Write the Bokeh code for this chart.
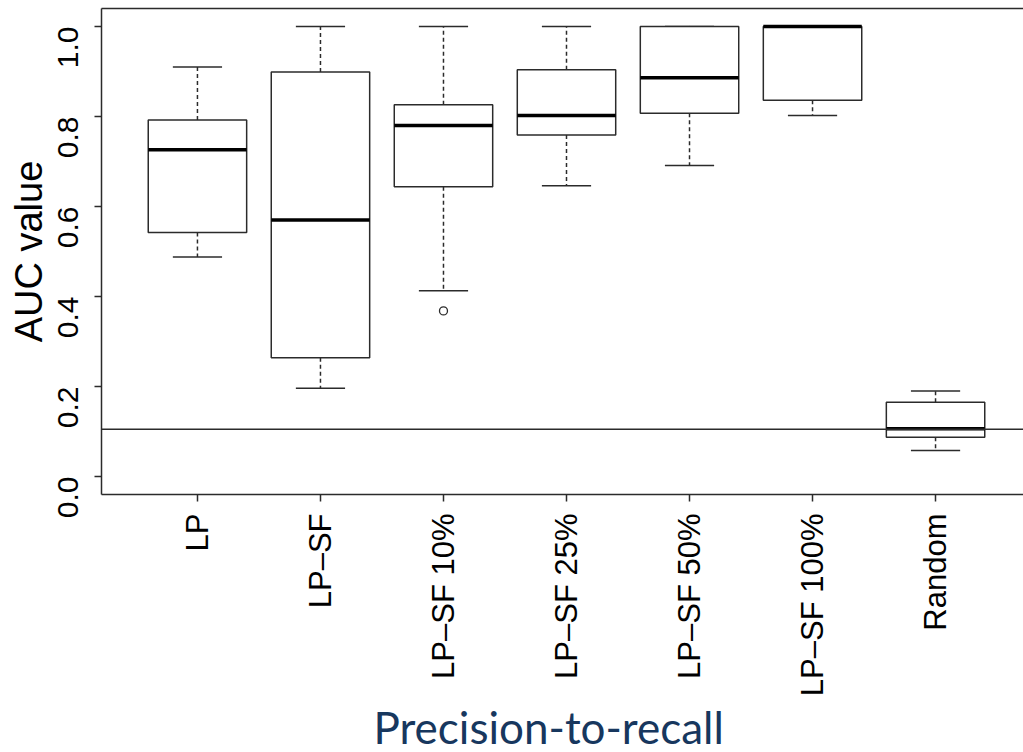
import math
from bokeh.plotting import figure
from bokeh.models import Range1d, FixedTicker, LinearAxis, Span, Title, NumeralTickFormatter
from bokeh.embed import file_html
from bokeh.resources import INLINE

# ---- data ----
categories = ["LP", "LP–SF", "LP–SF 10%", "LP–SF 25%", "LP–SF 50%", "LP–SF 100%", "Random"]
lower_whisker = [0.488, 0.196, 0.413, 0.646, 0.691, 0.802, 0.058]
q1 = [0.542, 0.264, 0.644, 0.759, 0.807, 0.836, 0.087]
median = [0.726, 0.570, 0.780, 0.802, 0.886, 1.000, 0.106]
q3 = [0.792, 0.899, 0.826, 0.904, 1.000, 1.000, 0.165]
upper_whisker = [0.910, 1.000, 1.000, 1.000, 1.000, 1.000, 0.190]
outlier_category = ["LP–SF 10%"]
outlier_value = [0.368]
random_baseline = 0.105
y_ticks = [0.0, 0.2, 0.4, 0.6, 0.8, 1.0]

x = [i + 1 for i in range(len(categories))]
BOX_HALF = 0.4
CAP_HALF = 0.2
LINE = "#2b2b2b"

p = figure(width=1023, height=752,
           x_range=Range1d(0.22, 7.715), y_range=Range1d(-0.04, 1.04),
           output_backend="svg", toolbar_location=None,
           min_border_left=101, min_border_right=0, min_border_top=8, min_border_bottom=258)
p.grid.visible = False
p.outline_line_color = None
p.background_fill_color = "white"
p.border_fill_color = "white"

# reference line (random baseline)
p.add_layout(Span(location=random_baseline, dimension="width", line_color=LINE, line_width=1.3))

# whiskers
p.segment(x0=x, x1=x, y0=q3, y1=upper_whisker, line_color=LINE, line_width=1.5, line_dash="4 3")
p.segment(x0=x, x1=x, y0=q1, y1=lower_whisker, line_color=LINE, line_width=1.5, line_dash="4 3")
# caps
p.segment(x0=[v - CAP_HALF for v in x], x1=[v + CAP_HALF for v in x], y0=upper_whisker, y1=upper_whisker,
          line_color=LINE, line_width=1.5)
p.segment(x0=[v - CAP_HALF for v in x], x1=[v + CAP_HALF for v in x], y0=lower_whisker, y1=lower_whisker,
          line_color=LINE, line_width=1.5)
# boxes
p.vbar(x=x, width=2 * BOX_HALF, bottom=q1, top=q3, fill_color="white", line_color=LINE, line_width=1.5)
# medians
p.segment(x0=[v - BOX_HALF for v in x], x1=[v + BOX_HALF for v in x], y0=median, y1=median,
          line_color="black", line_width=3.5)
# outliers
ox = [x[categories.index(c)] for c in outlier_category]
p.scatter(x=ox, y=outlier_value, marker="circle", size=8, fill_color=None, line_color=LINE, line_width=1.3)

# axes
xa = p.xaxis[0]
xa.ticker = FixedTicker(ticks=x)
xa.major_label_overrides = {v: c for v, c in zip(x, categories)}
xa.major_label_orientation = math.pi / 2
xa.major_label_text_font = "Liberation Sans"
xa.major_label_text_font_size = "31px"
xa.major_label_text_color = "black"
xa.major_label_standoff = 12
xa.major_tick_out = 7
xa.major_tick_in = 0
xa.minor_tick_line_color = None
xa.axis_line_width = 1.5
xa.axis_line_color = LINE
xa.major_tick_line_color = LINE
xa.major_tick_line_width = 1.5

ya = p.yaxis[0]
ya.ticker = FixedTicker(ticks=y_ticks)
ya.formatter = NumeralTickFormatter(format="0.0")
ya.major_label_orientation = math.pi / 2
ya.major_label_text_font = "Liberation Sans"
ya.major_label_text_font_size = "30px"
ya.major_label_text_color = "black"
ya.major_label_standoff = 27
ya.major_tick_out = 7
ya.major_tick_in = 0
ya.minor_tick_line_color = None
ya.axis_line_width = 1.5
ya.axis_line_color = LINE
ya.major_tick_line_color = LINE
ya.major_tick_line_width = 1.5
ya.axis_label = "AUC value"
ya.axis_label_text_font = "Liberation Sans"
ya.axis_label_text_font_size = "38px"
ya.axis_label_text_font_style = "normal"
ya.axis_label_text_color = "black"
ya.axis_label_standoff = -5

top_axis = LinearAxis(ticker=FixedTicker(ticks=[]), major_label_text_font_size="0px",
                      major_tick_out=0, major_tick_in=0, minor_tick_out=0, minor_tick_in=0,
                      axis_line_width=1.5, axis_line_color=LINE)
p.add_layout(top_axis, "above")

# x title
p.add_layout(Title(text="Precision-to-recall", align="left", offset=272, standoff=-1,
                   text_line_height=0.8,
                   text_font="Lato", text_font_size="44px", text_font_style="normal",
                   text_color="#17375E"), "below")

open("out.html", "w").write(file_html(p, INLINE))
